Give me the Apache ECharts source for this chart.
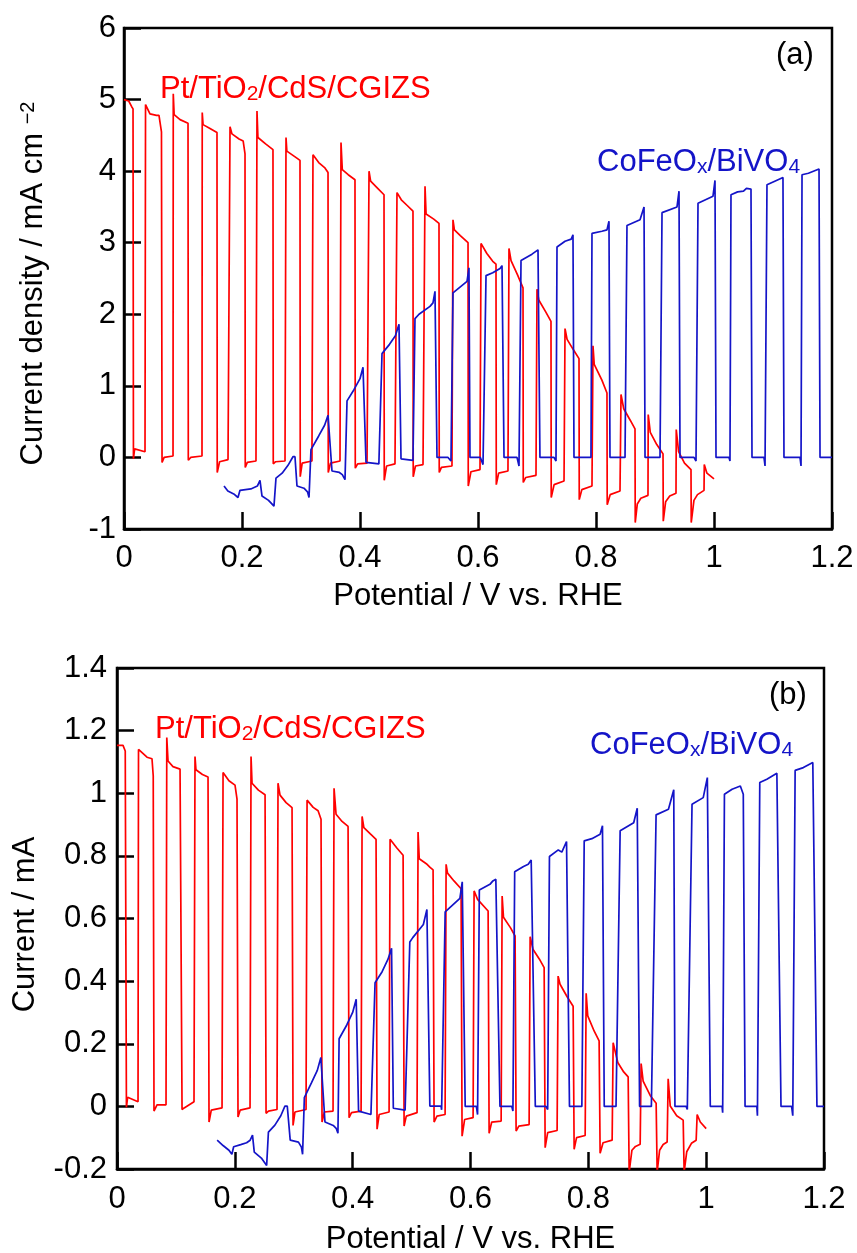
<!DOCTYPE html>
<html><head><meta charset="utf-8">
<script src="https://cdn.jsdelivr.net/npm/echarts@6/dist/echarts.min.js"></script>
<style>html,body{margin:0;padding:0;background:#fff}#c{width:857px;height:1253px}</style>
</head><body><div id="c"></div><script>
const FONT = 'Liberation Sans, Arial, Helvetica, sans-serif';
const RED = '#ff0000';
const BLUE = '#1414c8';

// axis ranges / tick steps
const xRange = [0, 1.2, 0.2];
const yRangeA = [-1, 6, 1];
const yRangeB = [-0.2, 1.4, 0.2];

// labels
const xTitle = 'Potential / V vs. RHE';
const yTitleA = '{m|Current density / mA cm }{s|\u22122}';
const yTitleB = 'Current / mA';

// Panel (a): current density (mA cm^-2) vs potential (V vs RHE)
const redA = [
[0,5.00],[0.008,4.98],[0.013,4.90],[0.0153,4.87],
[0.016,-0.02],[0.018,0.12],[0.0356,0.08],
[0.0365,4.93],[0.044,4.80],[0.055,4.78],[0.0593,4.78],[0.0635,4.55],
[0.0645,-0.07],[0.068,0.00],[0.0831,0.02],
[0.0835,5.08],[0.085,4.79],[0.095,4.72],[0.1085,4.67],
[0.109,-0.04],[0.113,0.00],[0.1322,0.02],
[0.1326,4.82],[0.134,4.65],[0.145,4.60],[0.1576,4.54],
[0.158,-0.21],[0.162,-0.06],[0.1763,-0.03],
[0.1797,4.62],[0.183,4.52],[0.195,4.45],[0.202,4.42],[0.2051,4.24],
[0.2055,-0.14],[0.209,-0.07],[0.2237,-0.05],
[0.2254,4.84],[0.227,4.47],[0.240,4.38],[0.2525,4.30],
[0.253,-0.09],[0.257,-0.06],[0.2729,-0.05],
[0.2746,4.47],[0.276,4.28],[0.290,4.20],[0.2983,4.15],
[0.2987,-0.27],[0.302,-0.08],[0.3186,-0.05],
[0.3203,4.23],[0.330,4.12],[0.340,4.05],[0.3458,3.98],
[0.3462,-0.21],[0.350,-0.08],[0.3661,-0.05],
[0.3678,4.40],[0.370,4.02],[0.380,3.95],[0.3915,3.88],
[0.392,-0.15],[0.396,-0.09],[0.4119,-0.08],
[0.4153,4.00],[0.418,3.86],[0.430,3.76],[0.4407,3.67],
[0.4411,-0.32],[0.445,-0.12],[0.4593,-0.09],
[0.4627,3.70],[0.470,3.60],[0.480,3.52],[0.4898,3.44],
[0.4902,-0.27],[0.494,-0.12],[0.5068,-0.10],
[0.5102,3.79],[0.512,3.40],[0.525,3.33],[0.5339,3.27],
[0.5343,-0.21],[0.538,-0.14],[0.5559,-0.12],
[0.5576,3.32],[0.560,3.18],[0.570,3.10],[0.5831,3.00],
[0.5835,-0.40],[0.588,-0.20],[0.6034,-0.17],
[0.6051,2.99],[0.615,2.85],[0.625,2.74],[0.6305,2.70],
[0.631,-0.38],[0.635,-0.22],[0.6508,-0.19],
[0.6525,2.92],[0.656,2.75],[0.667,2.55],[0.6763,2.37],
[0.6767,-0.35],[0.681,-0.28],[0.6983,-0.25],
[0.7000,2.35],[0.703,2.20],[0.715,2.03],[0.7237,1.90],
[0.7241,-0.56],[0.729,-0.38],[0.7458,-0.33],
[0.7475,1.80],[0.751,1.65],[0.762,1.50],[0.7712,1.38],
[0.7716,-0.59],[0.776,-0.45],[0.7932,-0.40],
[0.7949,1.56],[0.797,1.30],[0.810,1.08],[0.8186,0.90],
[0.819,-0.66],[0.824,-0.52],[0.8407,-0.47],
[0.8424,0.88],[0.847,0.68],[0.858,0.52],[0.8661,0.40],
[0.8665,-0.91],[0.870,-0.65],[0.876,-0.57],[0.8881,-0.53],
[0.8885,0.60],[0.892,0.35],[0.903,0.18],[0.9136,0.05],
[0.914,-0.89],[0.918,-0.62],[0.925,-0.54],[0.9356,-0.50],
[0.936,0.39],[0.940,0.08],[0.950,-0.08],[0.961,-0.17],
[0.9614,-0.91],[0.966,-0.60],[0.972,-0.52],[0.9831,-0.46],
[0.9835,-0.10],[0.988,-0.22],[1.000,-0.30]
];

const blueA = [
[0.1695,-0.40],[0.176,-0.47],[0.186,-0.51],[0.1932,-0.56],
[0.1966,-0.46],[0.215,-0.44],[0.226,-0.40],[0.2305,-0.32],
[0.2339,-0.54],[0.245,-0.60],[0.2542,-0.68],
[0.2576,-0.29],[0.268,-0.22],[0.278,-0.11],[0.2864,0.01],[0.2898,0.01],
[0.2932,-0.40],[0.305,-0.43],[0.311,-0.48],[0.3136,-0.56],
[0.3169,0.11],[0.330,0.30],[0.340,0.45],[0.3458,0.59],
[0.3525,-0.19],[0.365,-0.21],[0.370,-0.24],[0.3746,-0.31],
[0.3780,0.79],[0.390,0.95],[0.400,1.10],[0.4051,1.26],
[0.4102,-0.07],[0.432,-0.09],
[0.4373,1.45],[0.450,1.58],[0.460,1.70],[0.4661,1.86],
[0.4695,-0.02],[0.4898,-0.04],
[0.4932,1.94],[0.500,2.00],[0.5186,2.11],[0.5237,2.16],[0.5271,2.32],
[0.5305,0.00],[0.5492,0.00],[0.5542,-0.05],
[0.5576,2.30],[0.5814,2.46],[0.5847,2.65],
[0.5864,0.00],[0.604,0.00],[0.6085,-0.10],
[0.6136,2.54],[0.625,2.58],[0.6373,2.64],[0.6407,2.68],
[0.6441,0.00],[0.6661,0.00],[0.6695,-0.12],
[0.6729,2.75],[0.6915,2.84],[0.7017,2.90],[0.7034,2.92],
[0.705,0.00],[0.7288,0.00],[0.7322,-0.05],
[0.7339,2.94],[0.7475,3.02],[0.758,3.05],[0.7610,3.11],
[0.7627,0.00],[0.7915,0.00],
[0.7932,3.13],[0.810,3.16],[0.8186,3.18],[0.8220,3.30],
[0.8237,0.00],[0.8492,0.00],
[0.8525,3.24],[0.8746,3.32],[0.8814,3.50],
[0.8831,0.00],[0.9085,0.00],
[0.9119,3.42],[0.9373,3.50],[0.9407,3.72],
[0.9424,0.00],[0.9661,0.00],[0.9695,-0.05],
[0.9729,3.55],[0.9983,3.65],[1.0017,3.87],
[1.0034,0.00],[1.0254,0.00],[1.0271,-0.05],
[1.0288,3.67],[1.040,3.71],[1.050,3.72],[1.055,3.76],[1.0627,3.75],
[1.0644,0.00],[1.0847,0.00],[1.0865,-0.12],
[1.0898,3.81],[1.103,3.86],[1.1169,3.91],
[1.1186,0.00],[1.1458,0.00],[1.1475,-0.12],
[1.1492,3.95],[1.160,3.97],[1.1780,4.03],
[1.1797,0.00],[1.200,0.00]
];

// Panel (b): current (mA) vs potential (V vs RHE)
const redB = [
[0,1.153],[0.0102,1.153],[0.014,1.135],[0.0153,1.130],
[0.016,-0.003],[0.018,0.029],[0.0357,0.015],
[0.0365,1.140],[0.0509,1.115],[0.0594,1.110],[0.0615,1.055],
[0.0628,-0.015],[0.0679,0.005],[0.0832,0.005],
[0.0845,1.178],[0.0866,1.103],[0.095,1.085],[0.107,1.077],
[0.1104,-0.010],[0.114,-0.005],[0.1307,0.015],
[0.1324,1.117],[0.134,1.075],[0.145,1.060],[0.1545,1.052],
[0.1562,-0.050],[0.160,-0.012],[0.1783,-0.005],
[0.1800,1.066],[0.190,1.040],[0.2003,1.026],[0.2037,0.981],
[0.2054,-0.034],[0.209,-0.012],[0.2258,-0.005],
[0.2275,1.117],[0.2292,1.032],[0.240,1.010],[0.2513,0.995],
[0.2530,-0.022],[0.257,-0.015],[0.2716,-0.010],
[0.2733,1.032],[0.2767,0.994],[0.287,0.970],[0.2971,0.954],
[0.2988,-0.061],[0.302,-0.018],[0.3209,-0.010],
[0.3226,0.978],[0.333,0.955],[0.3413,0.944],[0.3463,0.917],
[0.3480,-0.050],[0.352,-0.018],[0.3667,-0.015],
[0.3684,1.016],[0.3718,0.933],[0.382,0.910],[0.3922,0.894],
[0.3939,-0.036],[0.398,-0.020],[0.4143,-0.015],
[0.4160,0.926],[0.419,0.890],[0.430,0.870],[0.4397,0.853],
[0.4414,-0.073],[0.445,-0.026],[0.4618,-0.018],
[0.4635,0.853],[0.475,0.825],[0.4856,0.802],
[0.4873,-0.063],[0.491,-0.031],[0.5093,-0.020],
[0.5110,0.876],[0.513,0.791],[0.525,0.775],[0.5314,0.763],[0.5365,0.755],
[0.5382,-0.050],[0.543,-0.031],[0.5569,-0.026],
[0.5586,0.773],[0.561,0.745],[0.572,0.720],[0.5840,0.695],
[0.5857,-0.095],[0.590,-0.042],[0.6044,-0.036],
[0.6061,0.688],[0.612,0.661],[0.6299,0.624],
[0.6316,-0.086],[0.636,-0.050],[0.6520,-0.047],
[0.6537,0.672],[0.656,0.604],[0.668,0.570],[0.6757,0.544],
[0.6774,-0.079],[0.682,-0.063],[0.6995,-0.058],
[0.7012,0.542],[0.706,0.502],[0.717,0.470],[0.7250,0.443],
[0.7267,-0.132],[0.731,-0.084],[0.7470,-0.077],
[0.7487,0.416],[0.752,0.390],[0.764,0.350],[0.7742,0.320],
[0.7759,-0.137],[0.780,-0.100],[0.7946,-0.093],
[0.7963,0.361],[0.799,0.289],[0.810,0.240],[0.8183,0.209],
[0.8200,-0.150],[0.825,-0.116],[0.8404,-0.108],
[0.8421,0.203],[0.850,0.140],[0.860,0.110],[0.8676,0.094],
[0.8693,-0.210],[0.874,-0.140],[0.880,-0.128],[0.8880,-0.121],
[0.8896,0.137],[0.893,0.081],[0.905,0.035],[0.9151,0.010],
[0.9168,-0.210],[0.921,-0.140],[0.927,-0.122],[0.9338,-0.114],
[0.9355,0.088],[0.939,0.001],[0.950,-0.030],[0.9610,-0.044],
[0.9626,-0.210],[0.967,-0.145],[0.975,-0.118],[0.9830,-0.108],
[0.9847,-0.026],[0.990,-0.050],[1.000,-0.071]
];

const blueB = [
[0.170,-0.108],[0.180,-0.125],[0.190,-0.140],[0.195,-0.153],
[0.198,-0.129],[0.210,-0.122],[0.220,-0.116],[0.226,-0.108],[0.230,-0.092],
[0.233,-0.146],[0.245,-0.165],[0.254,-0.189],
[0.257,-0.082],[0.268,-0.060],[0.278,-0.030],[0.285,0.001],[0.289,0.001],
[0.294,-0.108],[0.308,-0.114],[0.313,-0.130],[0.315,-0.153],
[0.318,0.028],[0.330,0.075],[0.340,0.115],[0.346,0.156],
[0.353,-0.050],[0.367,-0.061],[0.372,-0.070],[0.375,-0.086],
[0.377,0.216],[0.390,0.260],[0.400,0.300],[0.406,0.342],
[0.410,-0.015],[0.431,-0.026],
[0.438,0.395],[0.450,0.430],[0.460,0.470],[0.466,0.505],
[0.469,-0.006],[0.489,-0.012],
[0.497,0.525],[0.502,0.539],[0.520,0.581],[0.526,0.629],
[0.531,0.001],[0.550,0.001],[0.551,-0.011],
[0.557,0.621],[0.582,0.664],[0.586,0.717],
[0.591,0.000],[0.610,0.000],[0.612,-0.026],
[0.615,0.691],[0.633,0.709],[0.638,0.720],[0.643,0.725],
[0.650,0.000],[0.670,0.000],[0.672,-0.015],
[0.675,0.749],[0.690,0.766],[0.698,0.773],[0.703,0.787],
[0.710,0.000],[0.728,0.000],[0.731,-0.010],
[0.734,0.798],[0.749,0.819],[0.755,0.812],[0.763,0.846],
[0.768,0.000],[0.789,0.000],
[0.793,0.848],[0.806,0.855],[0.820,0.869],[0.824,0.896],
[0.827,0.000],[0.847,0.000],
[0.854,0.880],[0.877,0.906],[0.883,0.952],
[0.887,0.000],[0.907,0.000],
[0.915,0.931],[0.936,0.949],[0.945,1.011],
[0.947,0.000],[0.966,0.000],[0.968,-0.010],
[0.976,0.965],[0.995,0.986],[1.002,1.050],
[1.007,0.000],[1.027,0.000],[1.028,-0.020],
[1.031,0.997],[1.044,1.013],[1.058,1.023],[1.063,0.997],
[1.066,0.000],[1.086,0.000],[1.087,-0.030],
[1.091,1.034],[1.103,1.045],[1.120,1.064],
[1.127,0.000],[1.145,0.000],[1.147,-0.030],
[1.151,1.073],[1.165,1.082],[1.181,1.098],
[1.188,0.000],[1.200,0.000]
];

// annotation texts
const redLabel = '{m|Pt/TiO}{s|2}{m|/CdS/CGIZS}';
const blueLabel = '{m|CoFeO}{s|x}{m|/BiVO}{s|4}';
const panelLabels = ['(a)', '(b)'];

const chart = echarts.init(document.getElementById('c'), null, {renderer: 'canvas', width: 857, height: 1253});

function xAx(grid, gap, margin) {
  return {
    gridIndex: grid, type: 'value', min: xRange[0], max: xRange[1], interval: xRange[2],
    name: xTitle, nameLocation: 'middle', nameGap: gap,
    nameTextStyle: {fontSize: 31, fontFamily: FONT, color: '#000'},
    axisLine: {show: true, onZero: false, lineStyle: {color: '#000', width: 2.5}},
    axisTick: {show: true, inside: true, length: 17, lineStyle: {color: '#000', width: 2.5}},
    axisLabel: {fontSize: 31, fontFamily: FONT, color: '#000', margin: margin},
    splitLine: {show: false}, minorTick: {show: false}
  };
}
function yAx(grid, r, name, gap, margin, rich, pad) {
  const nts = {fontSize: 31, fontFamily: FONT, color: '#000', padding: pad};
  if (rich) nts.rich = rich;
  return {
    gridIndex: grid, type: 'value', min: r[0], max: r[1], interval: r[2],
    name: name, nameLocation: 'middle', nameGap: gap, nameRotate: 90,
    nameTextStyle: nts,
    axisLine: {show: true, onZero: false, lineStyle: {color: '#000', width: 2.5}},
    axisTick: {show: true, inside: true, length: 17, lineStyle: {color: '#000', width: 2.5}},
    axisLabel: {fontSize: 31, fontFamily: FONT, color: '#000', margin: margin},
    splitLine: {show: false}, minorTick: {show: false}
  };
}
function lineSeries(data, color, xi) {
  return {
    type: 'line', data: data, xAxisIndex: xi, yAxisIndex: xi,
    showSymbol: false, symbol: 'none', clip: true, animation: false,
    lineStyle: {color: color, width: 1.7}, emphasis: {disabled: true}
  };
}
function annot(left, top, text, color, isRich) {
  const st = {text: text, fill: color, font: '31px ' + FONT};
  if (isRich) {
    st.rich = {
      m: {fontSize: 31, fontFamily: FONT, lineHeight: 31, verticalAlign: 'top', fill: color},
      s: {fontSize: 21, fontFamily: FONT, lineHeight: 21, verticalAlign: 'bottom', padding: [14, 0, 0, 0], fill: color}
    };
  }
  return {type: 'text', left: left, top: top, z: 100, silent: true, style: st};
}

const supRich = {
  m: {fontSize: 31, fontFamily: FONT, lineHeight: 31, verticalAlign: 'bottom', color: '#000'},
  s: {fontSize: 20, fontFamily: FONT, lineHeight: 20, verticalAlign: 'top', padding: [0, 0, 16, 0], color: '#000'}
};

chart.setOption({
  animation: false,
  backgroundColor: '#fff',
  grid: [
    {left: 124, top: 28, width: 708, height: 501, show: true, borderColor: '#000', borderWidth: 2.5, containLabel: false, outerBoundsMode: 'none'},
    {left: 117, top: 668, width: 707, height: 501, show: true, borderColor: '#000', borderWidth: 2.5, containLabel: false, outerBoundsMode: 'none'}
  ],
  xAxis: [xAx(0, 52, 14), xAx(1, 55, 15)],
  yAxis: [yAx(0, yRangeA, yTitleA, 75, 8, supRich, [0, 10, 0, 0]), yAx(1, yRangeB, yTitleB, 76, 10, null, [0, 12, 0, 0])],
  series: [
    lineSeries(redA, RED, 0), lineSeries(blueA, BLUE, 0),
    lineSeries(redB, RED, 1), lineSeries(blueB, BLUE, 1)
  ],
  graphic: [
    annot(160, 70, redLabel, RED, true),
    annot(597, 143, blueLabel, BLUE, true),
    annot(776, 40, panelLabels[0], '#000', false),
    annot(155, 710, redLabel, RED, true),
    annot(590, 726, blueLabel, BLUE, true),
    annot(769, 680, panelLabels[1], '#000', false)
  ]
});
</script></body></html>
